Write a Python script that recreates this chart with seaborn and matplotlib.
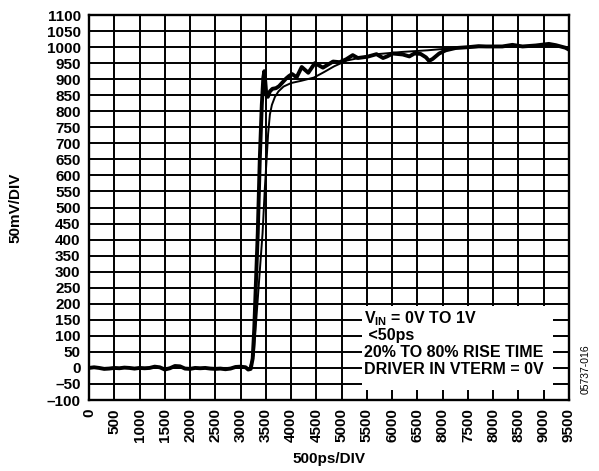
import numpy as np
import matplotlib.pyplot as plt
import pandas as pd
import seaborn as sns
from matplotlib.patches import Rectangle

# 太い波形（読み取り値, ps / mV）
thick_t = [0, 100, 200, 300, 400, 500, 600, 700, 800, 900, 1000, 1100, 1200, 1300, 1400,
           1500, 1600, 1700, 1800, 1900, 2000, 2100, 2200, 2300, 2400, 2500, 2600, 2700,
           2800, 2900, 3000, 3100, 3150, 3200, 3240, 3270, 3300, 3340, 3380, 3420, 3450,
           3470, 3490, 3510, 3540, 3580, 3630, 3700, 3760, 3830, 3900, 3960, 4020, 4110,
           4210, 4340, 4470, 4630, 4830, 4960, 5090, 5220, 5320, 5510, 5690, 5820, 5900,
           6010, 6210, 6340, 6440, 6560, 6670, 6730, 6800, 6930, 7060, 7250, 7520, 7710,
           7860, 8180, 8380, 8580, 8840, 9100, 9240, 9430, 9500]
thick_mv = [0, 2, 0, -3, -2, 0, -1, 1, 0, -2, 0, -1, 0, 4, 2,
            -5, -1, 6, 5, -2, -3, 0, -1, 0, -2, -3, -2, -4,
            -2, 3, 4, 2, -5, -3, 30, 120, 250, 420, 650, 820, 905,
            925, 890, 850, 845, 862, 870, 872, 878, 890, 902, 910, 916, 906,
            938, 920, 950, 936, 955, 953, 962, 975, 966, 970, 978, 966, 971,
            980, 977, 971, 980, 979, 968, 957, 963, 980, 990, 997, 1000, 1003,
            1002, 1002, 1007, 1002, 1005, 1010, 1006, 998, 992]

# 細い波形
thin_t = [0, 1000, 2000, 3180, 3260, 3310, 3370, 3435, 3480, 3515, 3545, 3580, 3620, 3680,
          3750, 3850, 4000, 4200, 4450, 4650, 4850, 5100, 5400, 5700, 6200, 6700, 7200,
          7800, 8500, 9000, 9500]
thin_mv = [0, 0, 0, 0, 40, 150, 280, 420, 560, 650, 730, 790, 820, 845,
           862, 877, 888, 895, 905, 922, 940, 958, 968, 978, 985, 990, 997,
           1000, 1003, 1005, 998]

x_ticks = list(range(0, 10000, 500))
x_labels = [str(v) for v in x_ticks]
x_labels[14] = '8000'  # 元の図の表記のまま
y_ticks = list(range(-100, 1150, 50))
y_labels = [str(v).replace('-', '\u2013') for v in y_ticks]

note_lines = [r'$\mathbf{V_{IN}}$ = 0V TO 1V', ' <50ps', '20% TO 80% RISE TIME',
              'DRIVER IN VTERM = 0V']

sns.set_style('white')
plt.rcParams['font.family'] = ['Liberation Sans', 'DejaVu Sans']
plt.rcParams['font.weight'] = 'bold'
plt.rcParams['text.color'] = 'black'
plt.rcParams['axes.labelcolor'] = 'black'
plt.rcParams['xtick.color'] = 'black'
plt.rcParams['ytick.color'] = 'black'
plt.rcParams['mathtext.fontset'] = 'custom'
plt.rcParams['mathtext.rm'] = 'Liberation Sans'
plt.rcParams['mathtext.bf'] = 'Liberation Sans:bold'

df_thick = pd.DataFrame({'t': thick_t, 'mv': thick_mv})
df_thin = pd.DataFrame({'t': thin_t, 'mv': thin_mv})

fig = plt.figure(figsize=(5.99, 4.71), dpi=100)
ax = fig.add_axes([0.1486, 0.1507, 0.8013, 0.8174])

sns.lineplot(data=df_thin, x='t', y='mv', ax=ax, color='black', lw=1.4, zorder=3)
sns.lineplot(data=df_thick, x='t', y='mv', ax=ax, color='black', lw=2.8, zorder=4)

ax.set_xlim(0, 9500)
ax.set_ylim(-100, 1100)
ax.set_xticks(x_ticks)
ax.set_xticklabels(x_labels, rotation=90, fontsize=11, fontweight='bold')
ax.set_yticks(y_ticks)
ax.set_yticklabels(y_labels, fontsize=11, fontweight='bold')
ax.tick_params(length=0, pad=6)
ax.set_axisbelow(True)
ax.grid(True, color='black', lw=1.4)
for s in ax.spines.values():
    s.set_color('black')
    s.set_linewidth(1.7)

ax.set_xlabel('500ps/DIV', fontsize=11, fontweight='bold')
ax.xaxis.set_label_coords(0.5, -0.135)
ax.set_ylabel('')
fig.text(15 / 599, 0.559, '50mV/DIV', rotation=90, fontsize=11, fontweight='bold',
         ha='center', va='center')

# 注記ボックス
ax.add_patch(Rectangle((0.569, 0.026), 0.398, 0.218, transform=ax.transAxes,
                       facecolor='white', edgecolor='none', zorder=2))
for i, line in enumerate(note_lines):
    ax.text(0.573, 0.211 - i * 0.044, line, transform=ax.transAxes, fontsize=11.5,
            fontweight='bold', va='center', ha='left', zorder=5)

fig.text(0.978, 0.2166, '05737-016', rotation=90, fontsize=7.5, fontweight='normal',
         ha='center', va='center')

fig.savefig('out.png', dpi=100)
